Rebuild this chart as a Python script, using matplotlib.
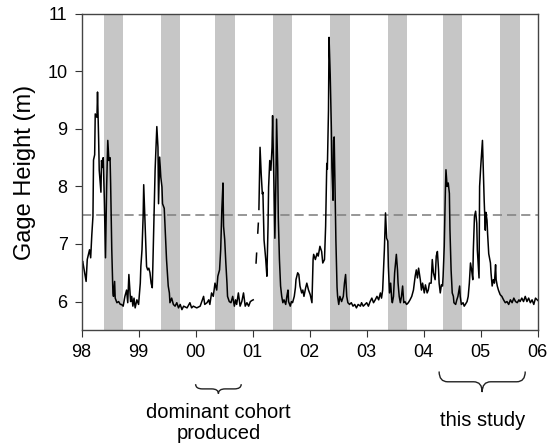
import numpy as np
import matplotlib
matplotlib.use("Agg")
import matplotlib.pyplot as plt
from matplotlib.path import Path
from matplotlib.patches import PathPatch

plt.rcParams['font.family'] = ['Liberation Sans', 'DejaVu Sans']

# years since start of 1998, gage height (m); nan = gap in record
t98 = [0.00, 0.02, 0.08, 0.10, 0.14, 0.16, 0.18, 0.20, 0.21, 0.23, 0.24, 0.27, 0.28, 0.30, 0.31,
       0.34, 0.35, 0.37, 0.38, 0.40, 0.42, 0.44, 0.46, 0.48, 0.50, 0.51, 0.53, 0.55, 0.56, 0.58,
       0.59, 0.62, 0.65, 0.68, 0.70, 0.73, 0.76, 0.79, 0.81, 0.83, 0.85, 0.86, 0.88, 0.90, 0.92,
       0.94, 0.97, 1.00, 1.03, 1.04, 1.06, 1.08, 1.09, 1.11, 1.13, 1.14, 1.16, 1.18, 1.20, 1.22,
       1.24, 1.25, 1.27, 1.29, 1.31, 1.32, 1.34, 1.35, 1.37, 1.39, 1.41, 1.42, 1.45, 1.47, 1.49,
       1.52, 1.54, 1.55, 1.58, 1.61, 1.64, 1.67, 1.70, 1.73, 1.76, 1.79, 1.85, 1.90, 1.93, 1.96,
       2.02, 2.08, 2.14, 2.16, 2.20, 2.23, 2.25, 2.28, 2.31, 2.34, 2.37, 2.39, 2.42, 2.44, 2.46,
       2.48, 2.49, 2.51, 2.53, 2.55, 2.56, 2.59, 2.62, 2.65, 2.68, 2.70, 2.72, 2.75, 2.78, 2.81,
       2.84, 2.87, 2.90, 2.93, 2.96, 2.99, 3.01, 3.035,
       3.06, 3.07, 3.08,
       3.09, 3.10, 3.105,
       3.11, 3.13, 3.15, 3.17, 3.18, 3.20, 3.23, 3.25, 3.27, 3.28, 3.30, 3.32, 3.34, 3.35, 3.37,
       3.39, 3.41, 3.42, 3.44, 3.45, 3.47, 3.49, 3.51, 3.53, 3.55, 3.58, 3.60, 3.62, 3.63, 3.66,
       3.68, 3.70, 3.73, 3.75, 3.76, 3.79, 3.81, 3.83, 3.86, 3.88, 3.90, 3.93, 3.95, 3.98, 4.01,
       4.04, 4.06, 4.07, 4.10, 4.13, 4.15, 4.18, 4.21, 4.23, 4.26, 4.28, 4.30, 4.31, 4.33, 4.34,
       4.36, 4.38, 4.39, 4.41, 4.42, 4.43, 4.44, 4.46, 4.48, 4.49, 4.51, 4.53, 4.56, 4.59, 4.61,
       4.63, 4.65, 4.67, 4.70, 4.73, 4.76, 4.79, 4.82, 4.85, 4.89, 4.91, 4.94, 4.97, 5.00, 5.03,
       5.06, 5.09, 5.12, 5.15, 5.18, 5.21, 5.24, 5.26, 5.28, 5.31, 5.33, 5.35, 5.37, 5.38, 5.40,
       5.42, 5.44, 5.45, 5.47, 5.49, 5.52, 5.54, 5.55, 5.57, 5.59, 5.61, 5.63, 5.65, 5.67, 5.70,
       5.73, 5.76, 5.79, 5.82, 5.85, 5.87, 5.89, 5.91, 5.94, 5.96, 5.98, 6.01, 6.03, 6.06, 6.08,
       6.10, 6.13, 6.15, 6.17, 6.20, 6.22, 6.24, 6.26, 6.27, 6.29, 6.31, 6.33, 6.34, 6.36, 6.38,
       6.39, 6.41, 6.43, 6.45, 6.46, 6.48, 6.50, 6.52, 6.53, 6.56, 6.58, 6.60, 6.63, 6.64, 6.66,
       6.69, 6.71, 6.73, 6.76, 6.78, 6.80, 6.82, 6.84, 6.86, 6.87, 6.89, 6.91, 6.93, 6.94, 6.97,
       6.98, 7.00, 7.02, 7.03, 7.04, 7.06, 7.08, 7.09, 7.11, 7.12, 7.14, 7.17, 7.18, 7.20, 7.22,
       7.24, 7.26, 7.27, 7.29, 7.31, 7.34, 7.37, 7.40, 7.43, 7.46, 7.49, 7.52, 7.55, 7.58, 7.61,
       7.64, 7.67, 7.69, 7.72, 7.75, 7.78, 7.81, 7.84, 7.87, 7.90, 7.93, 7.96, 8.00]

gage_h = [6.67, 6.70, 6.35, 6.73, 6.90, 6.76, 7.16, 7.48, 8.46, 8.55, 9.26, 9.20, 9.64, 8.80, 8.28,
          7.90, 8.45, 8.33, 8.50, 7.75, 6.76, 7.99, 8.80, 8.45, 8.50, 8.05, 6.90, 6.15, 6.09, 6.35,
          6.06, 5.98, 6.00, 5.95, 5.95, 5.92, 6.09, 6.20, 5.98, 6.47, 6.15, 6.00, 6.09, 5.92, 6.06,
          5.89, 6.03, 5.95, 6.32, 6.61, 6.90, 7.48, 8.03, 7.48, 6.90, 6.61, 6.55, 6.58, 6.50, 6.32,
          6.24, 6.61, 7.48, 8.29, 8.80, 9.04, 8.68, 7.70, 8.51, 8.16, 7.99, 7.70, 7.62, 7.19, 6.73,
          6.27, 6.15, 5.98, 6.06, 5.95, 5.92, 5.98, 5.89, 5.95, 5.86, 5.92, 5.89, 5.98, 5.89, 5.92,
          5.89, 5.92, 6.09, 5.95, 5.98, 6.03, 5.95, 6.15, 6.09, 6.32, 6.20, 6.44, 6.55, 6.90, 7.60,
          8.06, 7.31, 7.08, 6.67, 6.32, 6.09, 6.00, 5.98, 6.09, 5.92, 6.03, 5.95, 6.15, 5.92, 6.00,
          6.15, 5.92, 5.98, 5.92, 6.00, 6.02, 6.03, np.nan,
          6.67, 6.84, np.nan,
          7.19, 7.36, np.nan,
          7.60, 8.68, 8.22, 7.87, 7.90, 7.07, 6.73, 6.44, 7.31, 7.99, 8.45, 8.28, 8.68, 9.23, 8.22,
          7.10, 8.22, 9.17, 8.33, 7.46, 6.73, 6.27, 6.09, 5.98, 6.03, 5.95, 6.09, 6.20, 6.00, 5.92,
          6.00, 5.98, 6.09, 6.24, 6.38, 6.50, 6.47, 6.27, 6.15, 6.20, 6.09, 6.24, 6.32, 6.20, 6.12,
          5.98, 6.73, 6.82, 6.73, 6.84, 6.79, 6.96, 6.87, 6.67, 6.73, 7.31, 8.40, 8.30, 9.32, 10.59,
          9.95, 9.03, 8.33, 7.76, 8.80, 8.86, 8.22, 7.06, 6.25, 6.09, 5.95, 6.09, 6.00, 6.09, 6.32,
          6.47, 6.09, 5.98, 5.95, 5.98, 5.92, 5.95, 5.89, 5.95, 5.92, 5.98, 5.92, 5.95, 5.98, 5.92,
          6.00, 6.06, 5.98, 6.03, 6.09, 6.03, 6.15, 6.06, 6.20, 6.90, 7.54, 7.10, 7.05, 6.61, 6.15,
          6.32, 6.03, 5.98, 6.09, 6.50, 6.82, 6.55, 6.32, 6.09, 5.98, 6.09, 6.27, 5.98, 6.00, 5.95,
          5.98, 6.03, 6.09, 6.20, 6.44, 6.55, 6.41, 6.58, 6.38, 6.20, 6.32, 6.15, 6.29, 6.15, 6.20,
          6.32, 6.32, 6.73, 6.50, 6.38, 6.79, 6.87, 6.55, 6.32, 6.15, 6.29, 6.27, 6.44, 6.96, 7.94,
          8.29, 8.00, 8.06, 7.88, 7.25, 6.55, 6.15, 6.09, 5.98, 5.95, 6.03, 6.09, 6.27, 6.09, 5.95,
          5.98, 5.92, 5.95, 6.00, 6.09, 6.32, 6.67, 6.55, 6.38, 6.90, 7.48, 7.57, 7.36, 6.90, 6.41,
          8.00, 8.35, 8.64, 8.80, 8.45, 7.76, 7.24, 7.55, 7.41, 7.18, 6.83, 6.67, 6.50, 6.27, 6.38,
          6.32, 6.64, 6.38, 6.27, 6.20, 6.12, 6.09, 6.03, 5.98, 6.00, 5.95, 6.03, 5.98, 6.06, 6.00,
          5.98, 6.03, 6.00, 6.06, 6.00, 6.09, 6.00, 6.06, 5.98, 6.03, 5.95, 6.06, 6.02]

# summer periods (shaded)
band_start = [0.39, 1.39, 2.34, 3.36, 4.36, 5.38, 6.34, 7.33]
band_end = [0.72, 1.72, 2.69, 3.69, 4.71, 5.71, 6.68, 7.68]

year_labels = ['98', '99', '00', '01', '02', '03', '04', '05', '06']
threshold = 7.5

cohort_span = (2.0, 2.8)
study_span = (6.27, 7.78)

fig = plt.figure(figsize=(5.51, 4.44), dpi=100)
ax = fig.add_axes([0.148, 0.256, 0.828, 0.713])

for s, e in zip(band_start, band_end):
    ax.axvspan(s, e, color='#c6c6c6', lw=0, zorder=0)

ax.axhline(threshold, color='#858585', lw=1.2, dashes=(5.5, 3), zorder=1)
ax.plot(t98, gage_h, color='black', lw=1.1, zorder=2)

ax.set_xlim(0, 8)
ax.set_ylim(5.5, 11)
ax.set_xticks(range(len(year_labels)))
ax.set_xticklabels(year_labels)
ax.set_yticks([6, 7, 8, 9, 10, 11])
ax.tick_params(direction='out', length=5, labelsize=13, color='#333333', pad=5)
for sp in ax.spines.values():
    sp.set_color('#444444')
    sp.set_linewidth(1.0)
ax.set_ylabel('Gage Height (m)', fontsize=17, labelpad=8)


def brace(x0, x1, ytop, ybot, r):
    ym = (ytop + ybot) / 2
    xm = (x0 + x1) / 2
    verts = [(x0, ytop), (x0, ym), (x0 + r, ym), (xm - r, ym), (xm, ym), (xm, ybot),
             (xm, ym), (xm + r, ym), (x1 - r, ym), (x1, ym), (x1, ytop)]
    codes = [Path.MOVETO, Path.CURVE3, Path.CURVE3, Path.LINETO, Path.CURVE3, Path.CURVE3,
             Path.CURVE3, Path.CURVE3, Path.LINETO, Path.CURVE3, Path.CURVE3]
    p = PathPatch(Path(verts, codes), fill=False, lw=1.0, edgecolor='#222222',
                  transform=ax.get_xaxis_transform(), clip_on=False)
    ax.add_patch(p)


brace(cohort_span[0], cohort_span[1], -0.17, -0.20, 0.12)
brace(study_span[0], study_span[1], -0.13, -0.195, 0.15)

trans = ax.get_xaxis_transform()
ax.text(sum(cohort_span) / 2, -0.258, 'dominant cohort', transform=trans,
        ha='center', va='center', fontsize=14.5)
ax.text(sum(cohort_span) / 2, -0.325, 'produced', transform=trans,
        ha='center', va='center', fontsize=14.5)
ax.text(sum(study_span) / 2, -0.286, 'this study', transform=trans,
        ha='center', va='center', fontsize=14.5)

fig.savefig('out.png', dpi=100)
